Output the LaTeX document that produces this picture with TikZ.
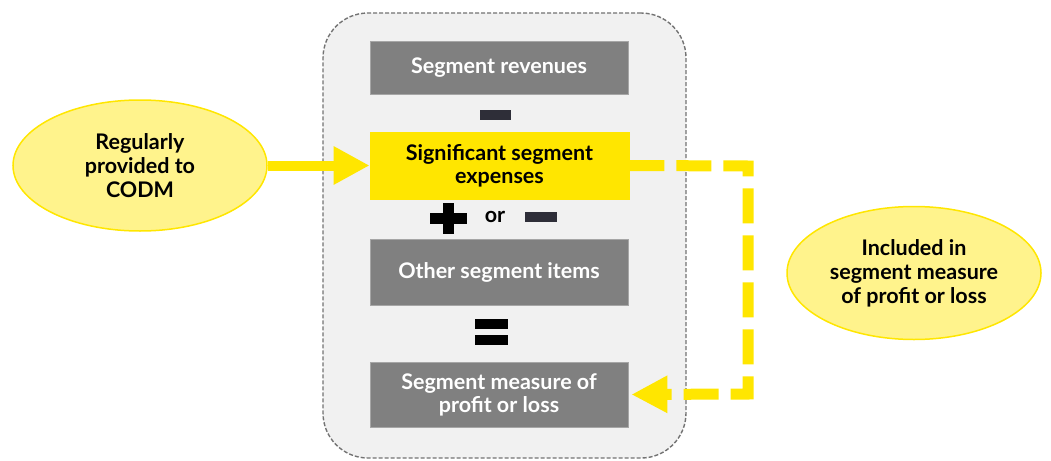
\documentclass[tikz,border=0pt]{standalone}
\usepackage{fontspec}
\setmainfont{Lato}
\usetikzlibrary{arrows.meta,shapes.geometric}
\definecolor{eyyellow}{HTML}{FFE600}
\definecolor{lightyellow}{HTML}{FFF38C}
\definecolor{boxgray}{HTML}{808080}
\definecolor{bggray}{HTML}{F1F1F1}
\definecolor{darkbar}{HTML}{2E2E38}
\tikzset{
  graybox/.style={draw=boxgray!70,line width=0.8pt,fill=boxgray,text=white,minimum width=258pt,align=center,font=\fontsize{21.5}{23}\selectfont\bfseries,inner sep=0pt},
  yellowbox/.style={graybox,draw=eyyellow,fill=eyyellow,text=black},
  bubble/.style={ellipse,draw=eyyellow,line width=1.5pt,fill=lightyellow,align=center,font=\fontsize{21.5}{24}\selectfont\bfseries,inner sep=0pt},
  bigarrow/.style={draw=eyyellow,line width=10pt,-{Triangle[length=36pt,width=36pt]}},
  dasharrow/.style={draw=eyyellow,line width=11pt,dash pattern=on 35pt off 12pt,-{Triangle[length=36pt,width=35pt]}},
  bar/.style={fill=darkbar,draw=none},
}
\begin{document}
\begin{tikzpicture}[x=1pt,y=-1pt]
\useasboundingbox (0,0) rectangle (1051,460);
% container
\node[draw=gray!90!black,dash pattern=on 4pt off 2pt,line width=1.4pt,fill=bggray,rounded corners=45pt,minimum width=363pt,minimum height=445pt,inner sep=0pt] (frame) at (504.5,235.5) {};
% boxes
\node[graybox,minimum height=53pt] (rev) at (499,67.5) {Segment revenues};
\node[yellowbox,minimum height=67pt,minimum width=259pt] (sse) at (499.5,165.5) {Significant segment\\expenses};
\node[graybox,minimum height=66pt] (other) at (499,272) {Other segment items};
\node[graybox,minimum height=65pt] (sm) at (499,394.5) {Segment measure of\\profit or loss};
% operators
\node[bar,minimum width=31pt,minimum height=10pt,inner sep=0pt] (minus1) at (495.5,115) {};
\node[fill=black,minimum width=37pt,minimum height=11pt,inner sep=0pt] (plush) at (448.5,218.5) {};
\node[fill=black,minimum width=11pt,minimum height=31pt,inner sep=0pt] (plusv) at (448.5,218.5) {};
\node[font=\fontsize{21.5}{23}\selectfont\bfseries] (or) at (495,217) {or};
\node[bar,minimum width=32pt,minimum height=10pt,inner sep=0pt] (minus2) at (541,217) {};
\node[fill=black,minimum width=33pt,minimum height=10pt,inner sep=0pt] (eq1) at (491.5,324) {};
\node[fill=black,minimum width=33pt,minimum height=10pt,inner sep=0pt] (eq2) at (491.5,340) {};
% bubbles
\node[bubble,minimum width=254pt,minimum height=131pt] (left) at (140,165.5) {Regularly\\provided to\\CODM};
\node[bubble,minimum width=254pt,minimum height=133pt] (right) at (914,273) {Included in\\segment measure\\of profit or loss};
% arrows
\draw[bigarrow] (left.east) -- (sse.west);
\coordinate (c1) at (748,166);
\coordinate (c2) at (748,394);
\draw[dasharrow] (sse.east) -- (c1) -- (c2) -- ([xshift=3pt]sm.east);
\end{tikzpicture}
\end{document}
